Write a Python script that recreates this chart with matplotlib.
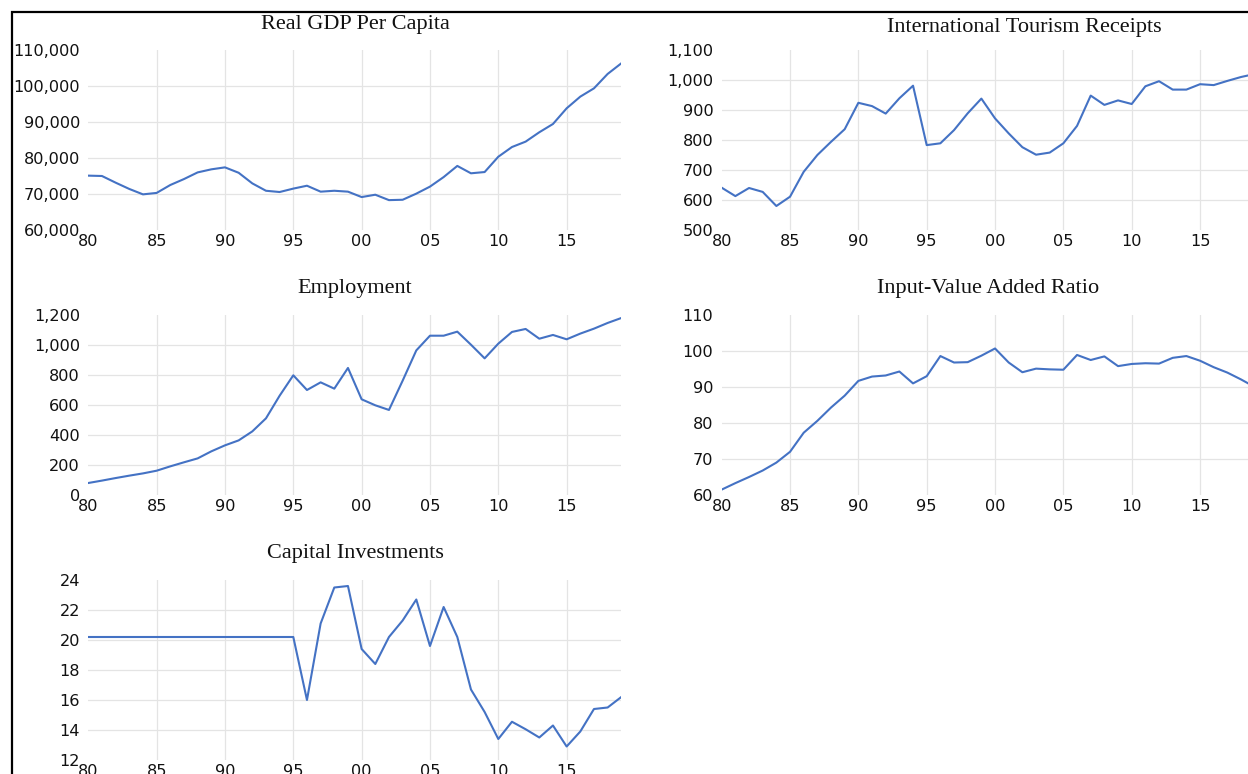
import numpy as np
import matplotlib
matplotlib.use("Agg")
import matplotlib.pyplot as plt
from matplotlib.ticker import FuncFormatter
from matplotlib.patches import Rectangle

# --- DATA ---
YEARS = np.arange(1980, 2020)
XTICKS = [1980, 1985, 1990, 1995, 2000, 2005, 2010, 2015]
XTICK_LABELS = ['80', '85', '90', '95', '00', '05', '10', '15']

gdp_per_capita = [75100, 75000, 73150, 71400, 69900, 70300, 72500, 74150, 76000, 76850,
                  77400, 75900, 72950, 70900, 70550, 71500, 72300, 70650, 70900, 70650,
                  69150, 69800, 68300, 68400, 70100, 72050, 74700, 77800, 75750, 76100,
                  80350, 83050, 84550, 87150, 89450, 93800, 97050, 99350, 103350, 106300]

tourism_receipts = [641, 613, 640, 627, 580, 611, 694, 750, 794, 836,
                    924, 913, 888, 939, 981, 783, 789, 833, 889, 938,
                    872, 822, 776, 751, 758, 789, 847, 948, 917, 932,
                    920, 979, 996, 968, 968, 986, 983, 997, 1010, 1020]

employment = [80, 96, 113, 129, 144, 162, 191, 218, 244, 291,
              331, 364, 424, 511, 662, 798, 700, 751, 709, 847,
              638, 598, 567, 762, 964, 1062, 1062, 1089, 1002, 911,
              1009, 1087, 1107, 1042, 1067, 1038, 1076, 1109, 1147, 1180]

input_va_ratio = [61.5, 63.3, 65.0, 66.8, 69.0, 72.0, 77.3, 80.6, 84.3, 87.6,
                  91.7, 92.9, 93.2, 94.3, 91.0, 93.0, 98.6, 96.8, 96.9, 98.7,
                  100.7, 96.8, 94.1, 95.1, 94.9, 94.8, 98.9, 97.5, 98.5, 95.8,
                  96.4, 96.6, 96.5, 98.1, 98.6, 97.3, 95.5, 94.0, 92.1, 90.0]

capital_investments = [20.2, 20.2, 20.2, 20.2, 20.2, 20.2, 20.2, 20.2, 20.2, 20.2,
                       20.2, 20.2, 20.2, 20.2, 20.2, 20.2, 16.0, 21.1, 23.5, 23.6,
                       19.4, 18.4, 20.2, 21.3, 22.7, 19.6, 22.2, 20.2, 16.7, 15.2,
                       13.4, 14.55, 14.05, 13.5, 14.3, 12.9, 13.9, 15.4, 15.5, 16.2]

# --- STYLE ---
W, H = 1248, 774
LINE_COLOR = '#4472C4'
GRID_COLOR = '#e4e4e4'
TITLE_FONT = 'Liberation Serif'

plt.rcParams['font.family'] = ['DejaVu Sans']


def px_axes(fig, left, top, right, bottom):
    # axes placed by pixel edges of the plot area
    return fig.add_axes([left / W, 1 - bottom / H, (right - left) / W, (bottom - top) / H])


def draw_panel(ax, values, yticks, comma=True):
    ax.plot(YEARS, values, color=LINE_COLOR, lw=1.5, zorder=3, solid_joinstyle='round')
    ax.set_xlim(1980, 2019)
    ax.set_ylim(yticks[0], yticks[-1])

    for x in XTICKS[1:]:
        ax.axvline(x, color=GRID_COLOR, lw=0.9, zorder=0)
    for y in yticks[1:-1]:
        ax.axhline(y, color=GRID_COLOR, lw=0.9, zorder=0)

    ax.set_xticks(XTICKS)
    ax.set_xticklabels(XTICK_LABELS)
    ax.set_yticks(yticks)
    if comma:
        ax.yaxis.set_major_formatter(FuncFormatter(lambda v, p: f"{v:,.0f}"))
    ax.tick_params(length=0, labelsize=11.6, labelcolor='#111111')
    ax.tick_params(axis='y', pad=6)
    ax.tick_params(axis='x', pad=3)
    for s in ax.spines.values():
        s.set_visible(False)
    ax.patch.set_alpha(0)


def add_title(fig, text, cx, baseline):
    fig.text(cx / W, 1 - baseline / H, text, ha='center', va='baseline',
             family=TITLE_FONT, fontsize=16, color='#111111')


def build_figure():
    fig = plt.figure(figsize=(W / 100, H / 100), dpi=100)

    L0, L1 = 88.3, 621.3
    R0, R1 = 721.7, 1254.7

    ax = px_axes(fig, L0, 50, L1, 230)
    draw_panel(ax, gdp_per_capita, [60000, 70000, 80000, 90000, 100000, 110000])
    add_title(fig, 'Real GDP Per Capita', 355, 29)

    ax = px_axes(fig, R0, 50, R1, 230)
    draw_panel(ax, tourism_receipts, [500, 600, 700, 800, 900, 1000, 1100])
    add_title(fig, 'International Tourism Receipts', 1024, 32)

    ax = px_axes(fig, L0, 315, L1, 495)
    draw_panel(ax, employment, [0, 200, 400, 600, 800, 1000, 1200])
    add_title(fig, 'Employment', 355, 293)

    ax = px_axes(fig, R0, 315, R1, 495)
    draw_panel(ax, input_va_ratio, [60, 70, 80, 90, 100, 110], comma=False)
    add_title(fig, 'Input-Value Added Ratio', 988, 293)

    ax = px_axes(fig, L0, 580, L1, 760)
    draw_panel(ax, capital_investments, [12, 14, 16, 18, 20, 22, 24], comma=False)
    add_title(fig, 'Capital Investments', 355, 558)

    # black frame running off the right and bottom edges
    fig.add_artist(Rectangle((12 / W, -0.1), 1.1, 1.1 - 12 / H,
                             transform=fig.transFigure, fill=False,
                             edgecolor='black', lw=1.6, zorder=10))
    return fig


if __name__ == "__main__":
    fig = build_figure()
    fig.savefig('out.png', dpi=100)
    print("saved out.png")
